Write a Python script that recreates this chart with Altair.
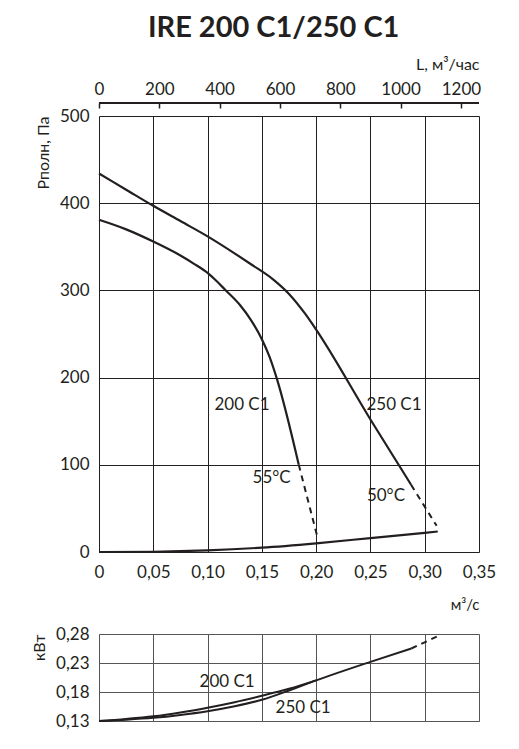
import altair as alt
import pandas as pd

# ---------------- data ----------------
# pressure curves, flow in m3/s, pressure in Pa
flow_200 = [0, 0.025, 0.05, 0.075, 0.0875, 0.10, 0.108, 0.116, 0.13, 0.14, 0.15, 0.157, 0.164, 0.184]
p_200 = [381, 370, 356, 340, 330.5, 320, 311, 301, 283, 266, 244, 224, 198, 100]
flow_200_dash = [0.184, 0.201]
p_200_dash = [100, 18]

flow_250 = [0, 0.025, 0.05, 0.075, 0.10, 0.14, 0.16, 0.175, 0.19, 0.20, 0.25, 0.2875]
p_250 = [434, 415.5, 397, 379.5, 362, 330, 313, 296, 273, 255, 152, 77]
flow_250_dash = [0.2875, 0.311]
p_250_dash = [77, 30]

flow_sys = [0, 0.05, 0.10, 0.15, 0.20, 0.25, 0.30, 0.312]
p_sys = [0, 0.3, 1.8, 5, 10, 16, 22, 23.5]

# power curves, kW
kw_flow_200 = [0, 0.025, 0.05, 0.075, 0.10, 0.125, 0.15, 0.175, 0.20]
kw_200 = [0.13, 0.1335, 0.138, 0.1447, 0.153, 0.1625, 0.1735, 0.1855, 0.200]
kw_flow_250 = [0, 0.025, 0.05, 0.075, 0.10, 0.125, 0.15, 0.175, 0.20, 0.25, 0.2877]
kw_250 = [0.13, 0.1323, 0.1355, 0.1405, 0.147, 0.1555, 0.1665, 0.1825, 0.200, 0.232, 0.255]
kw_flow_250_dash = [0.2877, 0.314]
kw_250_dash = [0.255, 0.278]

x_ticks = [0, 0.05, 0.10, 0.15, 0.20, 0.25, 0.30, 0.35]
y_ticks = [0, 100, 200, 300, 400, 500]
top_ticks = [0, 200, 400, 600, 800, 1000, 1200]
kw_ticks = [0.13, 0.18, 0.23, 0.28]

top_labels = ["200 C1", "250 C1", "55°C", "50°C"]
top_label_x = [0.1317, 0.2717, 0.159, 0.2643]
top_label_y = [169, 169, 85, 64]
bot_labels = ["200 C1", "250 C1"]
bot_label_x = [0.118, 0.188]
bot_label_y = [0.197, 0.152]

# ---------------- styling ----------------
FONT = "Lato"
INK = "#231f20"
FS = 17
W = 380


def df(xs, ys, name):
    return pd.DataFrame({"q": xs, "v": ys, "s": name})


comma_expr = "datum.value == 0 ? '0' : replace(format(datum.value, '.2f'), '.', ',')"

xscale = alt.Scale(domain=[0, 0.35], nice=False, zero=False)

x_main = alt.X(
    "q:Q",
    scale=xscale,
    axis=alt.Axis(
        values=x_ticks, labelExpr=comma_expr, domain=False, ticks=False, tickCount=10,
        labelPadding=12, grid=True, gridColor=INK, gridWidth=1, labelOverlap=False,
        labelFlush=False,
        title="м³/с", titleAnchor="end", titlePadding=17,
        titleFontWeight="normal", titleFontSize=15, titleFont=FONT,
        labelFont=FONT, labelFontSize=FS, labelColor=INK, titleColor=INK,
    ),
)
y_main = alt.Y(
    "v:Q",
    scale=alt.Scale(domain=[0, 500], nice=False),
    axis=alt.Axis(
        values=y_ticks, domain=False, ticks=False, labelPadding=10, tickCount=10,
        grid=True, gridColor=INK, gridWidth=1, labelOverlap=False,
        title="Рполн, Па", titleAnchor="end", titlePadding=8,
        titleFontWeight="normal", titleFontSize=16, titleFont=FONT,
        labelFont=FONT, labelFontSize=FS, labelColor=INK, titleColor=INK,
    ),
)

solid = pd.concat([df(flow_200, p_200, "200"), df(flow_250, p_250, "250"), df(flow_sys, p_sys, "sys")])
dashed = pd.concat([df(flow_200_dash, p_200_dash, "200"), df(flow_250_dash, p_250_dash, "250")])
labels_top = pd.DataFrame({"q": top_label_x, "v": top_label_y, "t": top_labels})

l_solid = alt.Chart(solid).mark_line(color=INK, strokeWidth=2.2, interpolate="monotone").encode(
    x=x_main, y=y_main, detail="s:N")
l_dash = alt.Chart(dashed).mark_line(color=INK, strokeWidth=2, strokeDash=[6, 5]).encode(
    x="q:Q", y="v:Q", detail="s:N")
l_text = alt.Chart(labels_top).mark_text(font=FONT, fontSize=FS, color=INK).encode(
    x="q:Q", y="v:Q", text="t:N")
main_layer = alt.layer(l_solid, l_dash, l_text)

top_axis_df = pd.DataFrame({"lh": top_ticks})
l_topaxis = alt.Chart(top_axis_df).mark_point(opacity=0).encode(
    x=alt.X(
        "lh:Q",
        scale=alt.Scale(domain=[0, 1260], nice=False, zero=False),
        axis=alt.Axis(
            orient="top", values=top_ticks, format="d", domain=False, tickCount=10,
            ticks=True, tickSize=5, tickColor=INK, tickWidth=1.5, offset=8,
            labelPadding=5, grid=False, labelOverlap=False, labelFlush=False,
            title="L, м³/час", titleAnchor="end", titlePadding=8,
            titleFontWeight="normal", titleFontSize=16, titleFont=FONT,
            labelFont=FONT, labelFontSize=FS, labelColor=INK, titleColor=INK,
        ),
    ),
)
l_topline = alt.Chart(top_axis_df).mark_rule(color=INK, strokeWidth=1.5).encode(
    x=alt.value(0), x2=alt.value(W), y=alt.value(-13))

top = alt.layer(main_layer, l_topaxis, l_topline).resolve_scale(x="independent").properties(
    width=W, height=436)

# ---------------- power chart ----------------
x_bot = alt.X(
    "q:Q",
    scale=xscale,
    axis=alt.Axis(values=x_ticks, labels=False, domain=False, ticks=False, title=None, tickCount=10,
                  grid=True, gridColor="#555555", gridWidth=1),
)
y_bot = alt.Y(
    "v:Q",
    scale=alt.Scale(domain=[0.13, 0.28], nice=False, zero=False),
    axis=alt.Axis(
        values=kw_ticks, labelExpr="replace(format(datum.value, '.2f'), '.', ',')",
        domain=False, ticks=False, labelPadding=10, labelOverlap=False, tickCount=6,
        grid=True, gridColor="#555555", gridWidth=1,
        title="кВт", titleAnchor="end", titlePadding=8,
        titleFontWeight="normal", titleFontSize=16, titleFont=FONT,
        labelFont=FONT, labelFontSize=FS, labelColor=INK, titleColor=INK,
    ),
)
kw_solid = pd.concat([df(kw_flow_200, kw_200, "200"), df(kw_flow_250, kw_250, "250")])
kw_dash = df(kw_flow_250_dash, kw_250_dash, "250")
labels_bot = pd.DataFrame({"q": bot_label_x, "v": bot_label_y, "t": bot_labels})

b_solid = alt.Chart(kw_solid).mark_line(color=INK, strokeWidth=2, interpolate="monotone").encode(
    x=x_bot, y=y_bot, detail="s:N")
b_dash = alt.Chart(kw_dash).mark_line(color=INK, strokeWidth=2, strokeDash=[6, 5]).encode(x="q:Q", y="v:Q")
b_text = alt.Chart(labels_bot).mark_text(font=FONT, fontSize=FS, color=INK).encode(
    x="q:Q", y="v:Q", text="t:N")

bottom = alt.layer(b_solid, b_dash, b_text).properties(width=W, height=87)

chart = alt.vconcat(top, bottom, spacing=11).properties(
    title=alt.TitleParams(
        "IRE 200 C1/250 C1", font=FONT, fontSize=29, fontWeight="bold", color=INK,
        anchor="middle", offset=13, dx=10,
    ),
    padding={"left": 23, "top": 5, "right": 5, "bottom": 5},
).configure_view(stroke=INK, strokeWidth=3.5).configure(background="white")

chart.save("out.html", embed_options={"renderer": "svg", "actions": False})
